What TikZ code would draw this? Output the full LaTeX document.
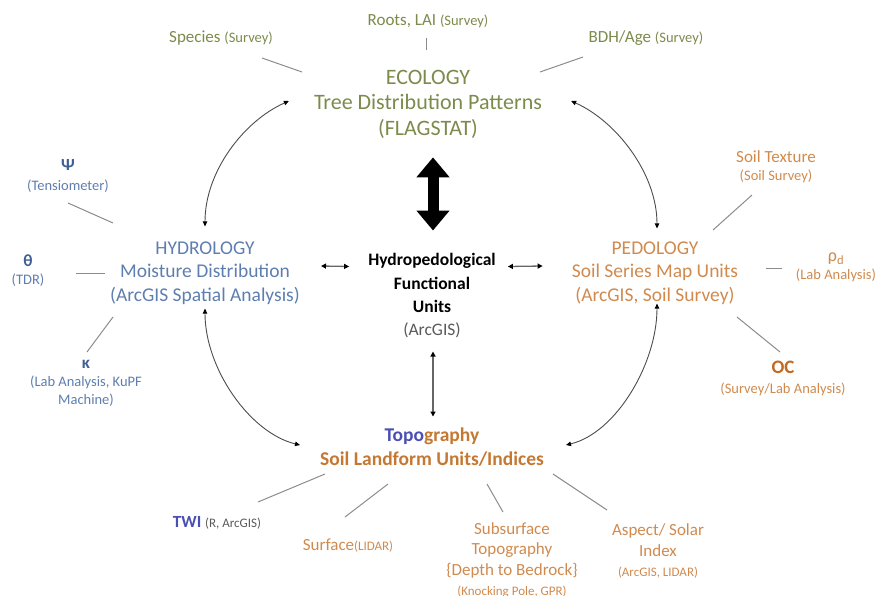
\documentclass[tikz,border=0pt]{standalone}
\usepackage{fontspec}
\setmainfont{Carlito}
\usetikzlibrary{arrows.meta, calc}

\definecolor{ecogreen}{HTML}{7C8A4B}
\definecolor{hydblue}{HTML}{5E7EAF}
\definecolor{hyddark}{HTML}{3F5F95}
\definecolor{pedorange}{HTML}{D08A4E}
\definecolor{ocorange}{HTML}{C2681F}
\definecolor{topoblue}{HTML}{4A4FB3}
\definecolor{topoorange}{HTML}{C47832}
\definecolor{arcgray}{HTML}{5A5A5A}

\newcommand{\fsz}[2]{\fontsize{#1}{#2}\selectfont}

\tikzset{
	every node/.style = {inner sep = 0pt, align = center},
	ecolab/.style = {text = ecogreen, font = \fsz{22}{25.5}},
	ecosub/.style = {text = ecogreen, font = \fsz{17}{20}},
	hydlab/.style = {text = hydblue, font = \fsz{19.5}{23.5}},
	hydsub/.style = {text = hydblue, font = \fsz{14.5}{18}},
	pedlab/.style = {text = pedorange, font = \fsz{19.5}{23.5}},
	pedsub/.style = {text = pedorange, font = \fsz{14.5}{18}},
	ctrlab/.style = {text = black, font = \fsz{17.5}{23.3}\bfseries},
	toplab/.style = {text = topoorange, font = \fsz{19.5}{24}\bfseries},
	topsub/.style = {text = pedorange, font = \fsz{17}{20.5}},
	curv/.style = {draw = black!70, line width = 0.9pt, >={Triangle[length=5pt, width=4.5pt, color=black]}, <->},
	harr/.style = {draw = black!60, line width = 1.3pt, >={Triangle[length=5pt, width=5pt, color=black]}, <->},
	bigarr/.style = {draw = black, line width = 11pt, arrows = {Triangle[length=20pt, width=32pt]-Triangle[length=20pt, width=32pt]}},
	tick/.style = {draw = black!45, line width = 1pt}
}

\begin{document}
\begin{tikzpicture}[x = 1pt, y = -1pt]

	\useasboundingbox (0, 0) rectangle (875, 595);

	% blocos principais
	\node[ecolab] (eco) at (428, 104) {ECOLOGY\\Tree Distribution Patterns\\(FLAGSTAT)};
	\node[hydlab] (hyd) at (205, 273) {HYDROLOGY\\Moisture Distribution\\(ArcGIS Spatial Analysis)};
	\node[pedlab] (ped) at (655, 273) {PEDOLOGY\\Soil Series Map Units\\(ArcGIS, Soil Survey)};
	\node[ctrlab] (ctr) at (432, 296) {Hydropedological\\Functional\\Units\\{\mdseries\color{arcgray}(ArcGIS)}};
	\node[toplab] (top) at (432, 447) {{\color{topoblue}Topo}graphy\\Soil Landform Units/Indices};

	% ecologia
	\node[ecosub] (spc) at (221, 38) {Species {\fsz{14.5}{17}(Survey)}};
	\node[ecosub] (roo) at (428, 21) {Roots, LAI {\fsz{14.5}{17}(Survey)}};
	\node[ecosub] (bdh) at (646, 38) {BDH/Age {\fsz{14.5}{17}(Survey)}};

	% hidrologia
	\node[hydsub] (psi) at (68, 176) {{\fsz{17}{20}\bfseries\color{hyddark}Ψ}\\[2pt](Tensiometer)};
	\node[hydsub] (tht) at (28, 271) {{\fsz{17}{20}\bfseries\color{hyddark}θ}\\(TDR)};
	\node[hydsub] (kap) at (86, 383) {{\fsz{17}{20}\bfseries\color{hyddark}κ}\\(Lab Analysis, KuPF\\Machine)};

	% pedologia
	\node[pedsub] (stx) at (776, 167) {{\fsz{17}{20}Soil Texture}\\(Soil Survey)};
	\node[pedsub] (rho) at (836, 267) {{\fsz{18}{20}ρ\textsubscript{d}}\\(Lab Analysis)};
	\node[pedsub] (occ) at (783, 378) {{\fsz{19}{22}\bfseries\color{ocorange}OC}\\[2pt](Survey/Lab Analysis)};

	% topografia
	\node[topsub] (twi) at (217, 523) {{\bfseries\color{topoblue}TWI} {\fsz{13}{15}\color{arcgray}(R, ArcGIS)}};
	\node[topsub] (srf) at (348, 546) {Surface{\fsz{13}{15}(LIDAR)}};
	\node[topsub] (sub) at (512, 560) {Subsurface\\Topography\\\{Depth to Bedrock\}\\{\fsz{13}{15}(Knocking Pole, GPR)}};
	\node[topsub] (asp) at (658, 551) {Aspect/ Solar\\Index\\{\fsz{13}{15}(ArcGIS, LIDAR)}};

	% setas curvas
	\draw[curv] ($(hyd.north) + (0, -15)$) .. controls +(0, -55) and +(-45, 20) .. ($(eco.west) + (-25, -3)$);
	\draw[curv] ($(eco.east) + (29, -3)$) .. controls +(45, 20) and +(0, -55) .. ($(ped.north) + (2, -13)$);
	\draw[curv] ($(hyd.south) + (0, 4)$) .. controls +(0, 60) and +(-50, -12) .. ($(top.west) + (-20, -2)$);
	\draw[curv] ($(ped.south) + (2, -1)$) .. controls +(0, 60) and +(50, -12) .. ($(top.east) + (22, -2)$);

	% setas retas
	\draw[harr] ($(hyd.east) + (21, -7)$) -- ($(ctr.north west) + (-19, 13)$);
	\draw[harr] ($(ctr.north east) + (12, 13)$) -- ($(ped.west) + (-29, -7)$);
	\draw[harr] ($(ctr.south) + (1, 13)$) -- ($(top.north) + (1, -11)$);
	\draw[bigarr] ($(eco.south) + (5, 19)$) -- ($(ctr.north) + (1, -23)$); % seta grande

	% tracos
	\draw[tick] ($(spc) + (41, 20)$) -- ($(eco) + (-126, -32)$);
	\draw[tick] ($(roo) + (-2, 17)$) -- ($(eco) + (-2, -54)$);
	\draw[tick] ($(bdh) + (-63, 19)$) -- ($(eco) + (112, -32)$);
	\draw[tick] ($(psi) + (0, 27)$) -- ($(hyd) + (-92, -50)$);
	\draw[tick] ($(tht) + (48, 2)$) -- ($(hyd) + (-100, 0)$);
	\draw[tick] ($(kap) + (1, -31)$) -- ($(hyd) + (-92, 44)$);
	\draw[tick] ($(stx) + (-24, 28)$) -- ($(ped) + (58, -43)$);
	\draw[tick] ($(rho) + (-54, 1)$) -- ($(ped) + (111, -5)$);
	\draw[tick] ($(occ) + (-3, -26)$) -- ($(ped) + (82, 44)$);
	\draw[tick] ($(twi) + (41, -21)$) -- ($(top) + (-107, 27)$);
	\draw[tick] ($(srf) + (-3, -29)$) -- ($(top) + (-44, 37)$);
	\draw[tick] ($(sub) + (-9, -48)$) -- ($(top) + (55, 37)$);
	\draw[tick] ($(asp) + (-51, -41)$) -- ($(top) + (121, 27)$);

\end{tikzpicture}
\end{document}
